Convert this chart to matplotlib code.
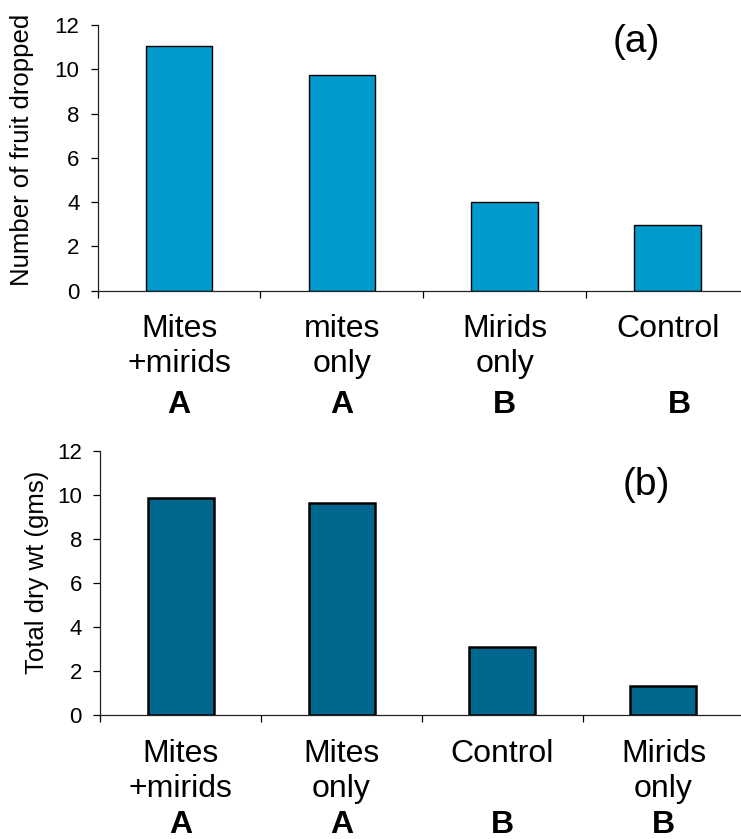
import numpy as np
import matplotlib
matplotlib.use("Agg")
import matplotlib.pyplot as plt
import matplotlib.transforms as mtransforms

plt.rcParams["font.family"] = ["Liberation Sans", "DejaVu Sans"]

# panel (a): number of fruit dropped
cats_a    = ["Mites\n+mirids", "mites\nonly", "Mirids\nonly", "Control"]
letters_a = ["A", "A", "B", "B"]
vals_a    = [11.05, 9.75, 4.02, 2.95]

# panel (b): total dry weight
cats_b    = ["Mites\n+mirids", "Mites\nonly", "Control", "Mirids\nonly"]
letters_b = ["A", "A", "B", "B"]
vals_b    = [9.87, 9.63, 3.07, 1.32]

COL_A = "#009ACD"
COL_B = "#00688F"


def draw_panel(ax, cats, letters, vals, color, edge_lw, ylabel, tag, tag_xy,
               label_xy, letter_shift, letter_y):
    x = np.arange(len(cats))
    ax.bar(x, vals, width=0.41, color=color, edgecolor="black", linewidth=edge_lw)

    ax.set_xlim(-0.5, len(cats) - 0.5)
    ax.set_ylim(0, 12)
    ax.set_yticks(np.arange(0, 13, 2))
    ax.set_xticks(x)
    ax.set_xticklabels(cats, fontsize=23, linespacing=1.22)
    ax.set_xticks(np.arange(-0.5, len(cats), 1.0), minor=True)
    ax.tick_params(axis="x", which="major", length=0, pad=17)
    ax.tick_params(axis="x", which="minor", length=5, width=0.9, direction="out")
    ax.tick_params(axis="y", which="major", length=5, width=0.9, labelsize=16, pad=8)

    for s in ("top", "right"):
        ax.spines[s].set_visible(False)
    for s in ("left", "bottom"):
        ax.spines[s].set_linewidth(0.9)
        ax.spines[s].set_color("#222222")

    trans = mtransforms.blended_transform_factory(ax.transData, ax.transAxes)
    for i, (lt, dx) in enumerate(zip(letters, letter_shift)):
        ax.text(i + dx, letter_y, lt, transform=trans, ha="center", va="baseline",
                fontsize=23, fontweight="bold", clip_on=False)

    ax.set_ylabel(ylabel, fontsize=18.5)
    ax.yaxis.set_label_coords(*label_xy)
    ax.text(tag_xy[0], tag_xy[1], tag, transform=ax.transAxes, ha="center",
            va="center", fontsize=28)


fig = plt.figure(figsize=(7.41, 8.39), dpi=100)
ax_a = fig.add_axes([0.1318, 0.6535, 0.879, 0.3167])
ax_b = fig.add_axes([0.1350, 0.1478, 0.869, 0.3150])

draw_panel(ax_a, cats_a, letters_a, vals_a, COL_A, 1.0,
           "Number of fruit dropped", "(a)", (0.8265, 0.936), (-0.098, 0.53),
           [0.0, 0.0, 0.0, 0.07], -0.46)
draw_panel(ax_b, cats_b, letters_b, vals_b, COL_B, 1.8,
           "Total dry wt (gms)", "(b)", (0.848, 0.870), (-0.080, 0.541),
           [0.0, 0.0, 0.0, 0.0], -0.448)

fig.savefig("out.png", dpi=100)
